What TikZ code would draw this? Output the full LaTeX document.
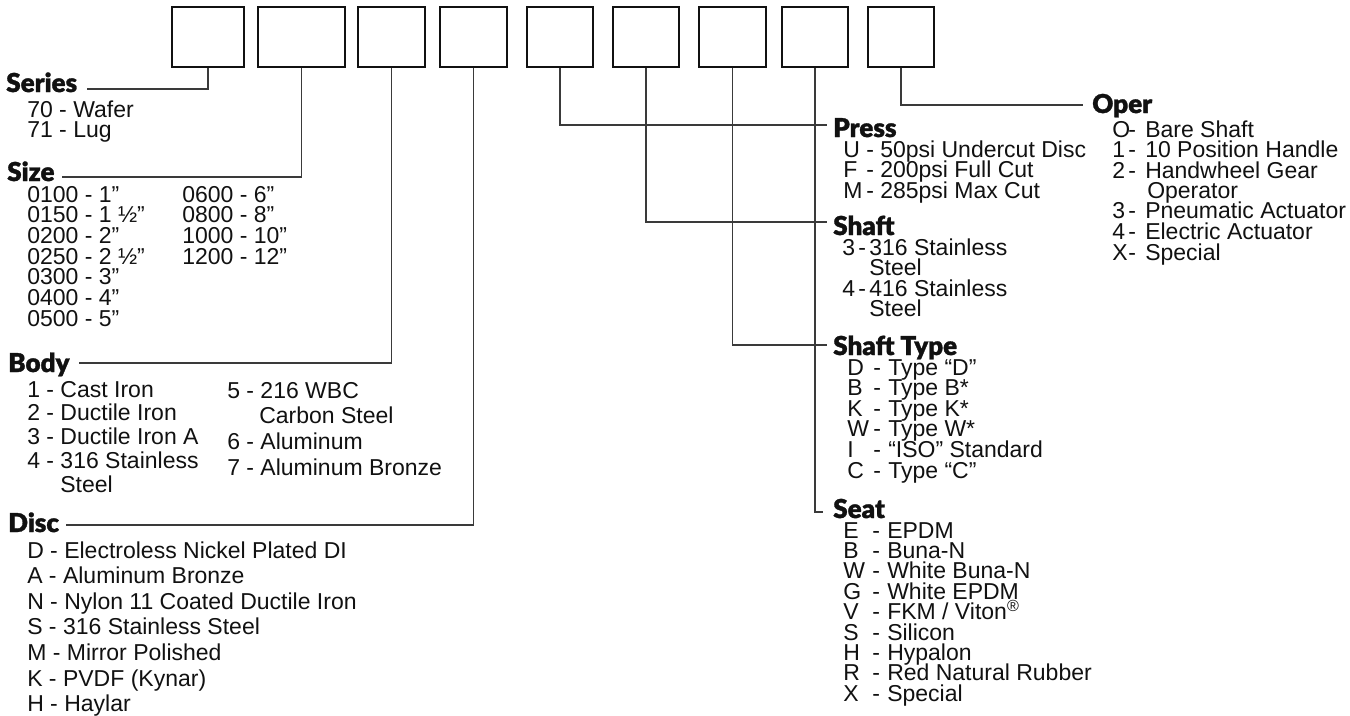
\documentclass[tikz,border=0pt]{standalone}
\usepackage{fontspec}
\setmainfont{Liberation Sans}
\IfFontExistsTF{Lato Black}{\newfontfamily\headfont{Lato Black}[FakeBold=1.2]}{\newfontfamily\headfont{Liberation Sans Bold}}
\usepackage{xcolor}
\definecolor{formink}{HTML}{111111}
\definecolor{formline}{HTML}{3A3A3A}

\begin{document}
\begin{tikzpicture}[
  x=0.75pt,
  y=-0.75pt,
  slot/.style={draw=formink, line width=1.1pt, minimum height=45pt, inner sep=0pt},
  conn/.style={draw=formline, line width=0.8pt},
  head/.style={font=\headfont\fontsize{19.5}{19.5}\selectfont, anchor=base west, inner sep=0pt, formink},
  item/.style={font=\fontsize{17.25}{17.25}\selectfont, anchor=base west, inner sep=0pt, formink}
]
  \useasboundingbox (0,0) rectangle (1350,715);

  % code boxes
  \node[slot, minimum width=54pt]    (b1) at (208,37) {};
  \node[slot, minimum width=65.25pt] (b2) at (301.5,37) {};
  \node[slot, minimum width=50.25pt] (b3) at (391.5,37) {};
  \node[slot, minimum width=50.25pt] (b4) at (473.5,37) {};
  \node[slot, minimum width=49.5pt]  (b5) at (560,37) {};
  \node[slot, minimum width=49.5pt]  (b6) at (646,37) {};
  \node[slot, minimum width=50.25pt] (b7) at (732.5,37) {};
  \node[slot, minimum width=49.5pt]  (b8) at (815,37) {};
  \node[slot, minimum width=49.5pt]  (b9) at (901,37) {};

  % left side
  \node[head] (series) at (6,92) {Series};
  \foreach \t [count=\i] in {70 - Wafer, 71 - Lug}
    \node[item] (series-\i) at (27,{117+20*(\i-1)}) {\t};

  \node[head] (size) at (7,181) {Size};
  \foreach \t [count=\i] in {0100 - 1”, 0150 - 1 ½”, 0200 - 2”, 0250 - 2 ½”, 0300 - 3”, 0400 - 4”, 0500 - 5”}
    \node[item] (size-a\i) at (27,{202+20.7*(\i-1)}) {\t};
  \foreach \t [count=\i] in {0600 - 6”, 0800 - 8”, 1000 - 10”, 1200 - 12”}
    \node[item] (size-b\i) at (182,{202+20.7*(\i-1)}) {\t};

  \node[head] (body) at (8,372) {Body};
  \foreach \t [count=\i] in {1 - Cast Iron, 2 - Ductile Iron, 3 - Ductile Iron A, 4 - 316 Stainless}
    \node[item] (body-a\i) at (27,{397+23.8*(\i-1)}) {\t};
  \node[item] (body-a5) at (60,492) {Steel};
  \node[item] (body-b1) at (227,398) {5 - 216 WBC};
  \node[item] (body-b2) at (259,423.5) {Carbon Steel};
  \node[item] (body-b3) at (227,449.5) {6 - Aluminum};
  \node[item] (body-b4) at (227,475) {7 - Aluminum Bronze};

  \node[head] (disc) at (8,532) {Disc};
  \foreach \t [count=\i] in {D - Electroless Nickel Plated DI, A - Aluminum Bronze, N - Nylon 11 Coated Ductile Iron,
      S - 316 Stainless Steel, M - Mirror Polished, K - PVDF (Kynar), H - Haylar}
    \node[item] (disc-\i) at (27,{558+25.6*(\i-1)}) {\t};

  % right side
  \node[head] (press) at (833,137) {Press};
  \foreach \k/\v [count=\i] in {U/50psi Undercut Disc, F/200psi Full Cut, M/285psi Max Cut} {
    \node[item] (press-k\i) at (843,{157+20.5*(\i-1)}) {\k};
    \node[item] (press-d\i) at (866,{157+20.5*(\i-1)}) {-};
    \node[item] (press-v\i) at (880,{157+20.5*(\i-1)}) {\v};
  }

  \node[head] (shaft) at (833,235) {Shaft};
  \node[item] (shaft-k1) at (842,255) {3};
  \node[item] (shaft-d1) at (858,255) {-};
  \node[item] (shaft-v1) at (869,255) {316 Stainless};
  \node[item] (shaft-v2) at (869,275.5) {Steel};
  \node[item] (shaft-k3) at (842,296) {4};
  \node[item] (shaft-d3) at (858,296) {-};
  \node[item] (shaft-v3) at (869,296) {416 Stainless};
  \node[item] (shaft-v4) at (869,316.5) {Steel};

  \node[head] (shafttype) at (833,355) {Shaft Type};
  \foreach \k/\v [count=\i] in {D/Type “D”, B/Type B*, K/Type K*, W/Type W*, I/“ISO” Standard, C/Type “C”} {
    \node[item] (stype-k\i) at (847,{375+20.6*(\i-1)}) {\k};
    \node[item] (stype-d\i) at (873,{375+20.6*(\i-1)}) {-};
    \node[item] (stype-v\i) at (888,{375+20.6*(\i-1)}) {\v};
  }

  \node[head] (seat) at (833,518) {Seat};
  \foreach \k/\v [count=\i] in {E/EPDM, B/Buna-N, W/White Buna-N, G/White EPDM, V/{FKM / Viton\textsuperscript{\textregistered}},
      S/Silicon, H/Hypalon, R/Red Natural Rubber, X/Special} {
    \node[item] (seat-k\i) at (843,{538+20.4*(\i-1)}) {\k};
    \node[item] (seat-d\i) at (872,{538+20.4*(\i-1)}) {-};
    \node[item] (seat-v\i) at (887,{538+20.4*(\i-1)}) {\v};
  }

  \node[head] (oper) at (1092,113) {Oper};
  \foreach \k/\v/\r in {O/Bare Shaft/137, 1/10 Position Handle/157, 2/Handwheel Gear/178,
      3/Pneumatic Actuator/218, 4/Electric Actuator/239, X/Special/260} {
    \node[item] (oper-k\k) at (1112,\r) {\k};
    \node[item] (oper-d\k) at (1128,\r) {-};
    \node[item] (oper-v\k) at (1145,\r) {\v};
  }
  \node[item] (oper-v2b) at (1147,198) {Operator};

  % leader lines
  \coordinate (series-tip) at (87,89);
  \coordinate (size-tip) at (62,177);
  \coordinate (body-tip) at (79,363);
  \coordinate (disc-tip) at (66,525);
  \coordinate (press-tip) at (827,125);
  \coordinate (shaft-tip) at (827,222);
  \coordinate (shafttype-tip) at (827,345);
  \coordinate (seat-tip) at (823,512);
  \coordinate (oper-tip) at (1083,105);

  \draw[conn] (b1.south) |- (series-tip);
  \draw[conn] (b2.south) |- (size-tip);
  \draw[conn] (b3.south) |- (body-tip);
  \draw[conn] (b4.south) |- (disc-tip);
  \draw[conn] (b5.south) |- (press-tip);
  \draw[conn] (b6.south) |- (shaft-tip);
  \draw[conn] (b7.south) |- (shafttype-tip);
  \draw[conn] (b8.south) |- (seat-tip);
  \draw[conn] (b9.south) |- (oper-tip);
\end{tikzpicture}
\end{document}
